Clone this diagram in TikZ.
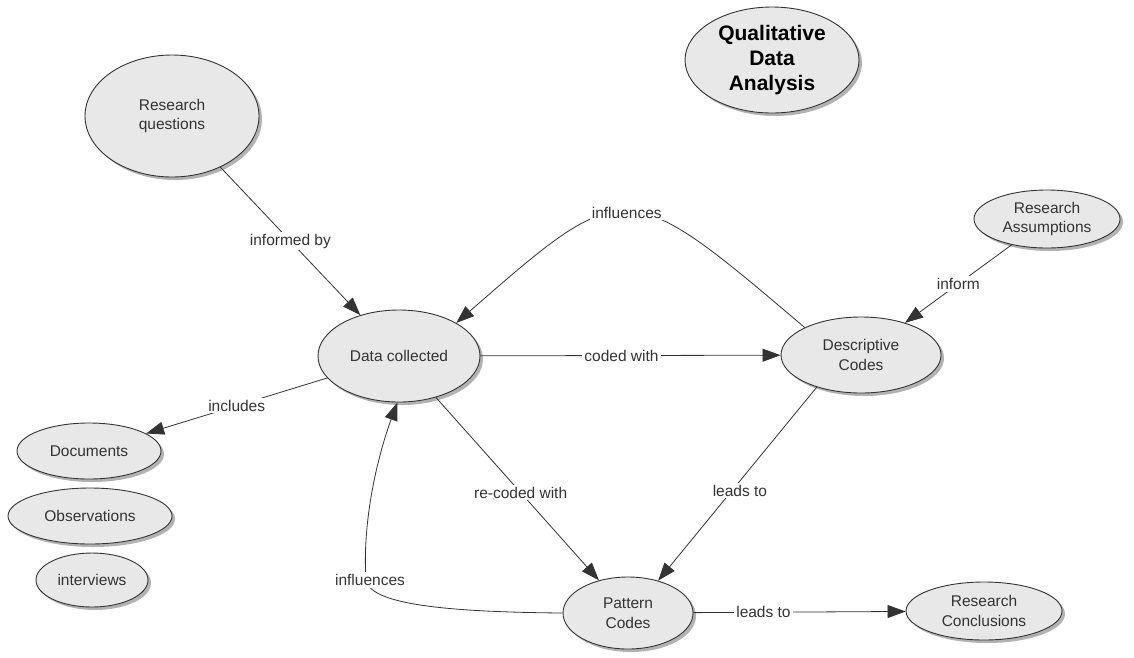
\documentclass[tikz,border=0pt]{standalone}
\usepackage{fontspec}
\setmainfont{Liberation Sans}
\usetikzlibrary{shapes.geometric,shadows,arrows.meta}
\definecolor{txt}{HTML}{333333}
\definecolor{nodefill}{HTML}{E8E8E8}
\definecolor{edge}{HTML}{333333}
\tikzset{
  concept/.style={ellipse, draw=edge, line width=0.9pt, fill=nodefill, inner sep=0pt,
    text=txt, align=center, font=\fontsize{15.5}{19.5}\selectfont,
    drop shadow={shadow xshift=3pt, shadow yshift=-3pt, fill=black!50, opacity=0.6}},
  lbl/.style={fill=white, inner sep=2pt, text=txt, font=\fontsize{15.5}{19.5}\selectfont},
  arr/.style={draw=edge, line width=0.8pt, -{Triangle[length=18pt,width=13pt]}},
}
\begin{document}
\begin{tikzpicture}[x=1pt,y=-1pt]
\useasboundingbox (0,0) rectangle (1134,657);
\fill[white] (0,0) rectangle (1134,657);

\node[concept, minimum width=174pt, minimum height=106pt, text=black,
  font=\fontsize{21}{25}\selectfont\bfseries] (title) at (772,60) {Qualitative\\Data\\Analysis};
\node[concept, minimum width=174pt, minimum height=122pt] (rq) at (172,116) {Research\\questions};
\node[concept, minimum width=162pt, minimum height=92pt] (dc) at (399,356) {Data collected};
\node[concept, minimum width=144pt, minimum height=56pt] (doc) at (89,451) {Documents};
\node[concept, minimum width=164pt, minimum height=56pt] (obs) at (90,516) {Observations};
\node[concept, minimum width=112pt, minimum height=54pt] (int) at (92,580) {interviews};
\node[concept, minimum width=130pt, minimum height=72pt] (pc) at (628,613) {Pattern\\Codes};
\node[concept, minimum width=156pt, minimum height=58pt] (rc) at (984,611) {Research\\Conclusions};
\node[concept, minimum width=160pt, minimum height=76pt] (desc) at (861,355) {Descriptive\\Codes};
\node[concept, minimum width=146pt, minimum height=58pt] (ra) at (1047,219) {Research\\Assumptions};

\draw[arr] (rq) -- node[lbl]{informed by} (dc);
\draw[arr] (dc) -- node[lbl,pos=0.47]{coded with} (desc);
\draw[arr] (dc) -- node[lbl]{includes} (doc);
\draw[arr] (dc) -- node[lbl,pos=0.52]{re-coded with} (pc);
\draw[arr] (desc.216) -- node[lbl,pos=0.535,xshift=8pt]{leads to} (pc.47);
\draw[arr] (pc) -- node[lbl,pos=0.33]{leads to} (rc);
\draw[arr] (ra) -- node[lbl]{inform} (desc);
\draw[arr] (desc.154) .. controls (625,175) and (626,175) .. node[lbl]{influences} (dc.30);
\draw[arr] (pc.west) .. controls (450,612) and (370,605) .. (366,580)
  node[lbl,xshift=4pt]{influences}
  .. controls (362,520) and (378,455) .. (dc.268);
\end{tikzpicture}
\end{document}
